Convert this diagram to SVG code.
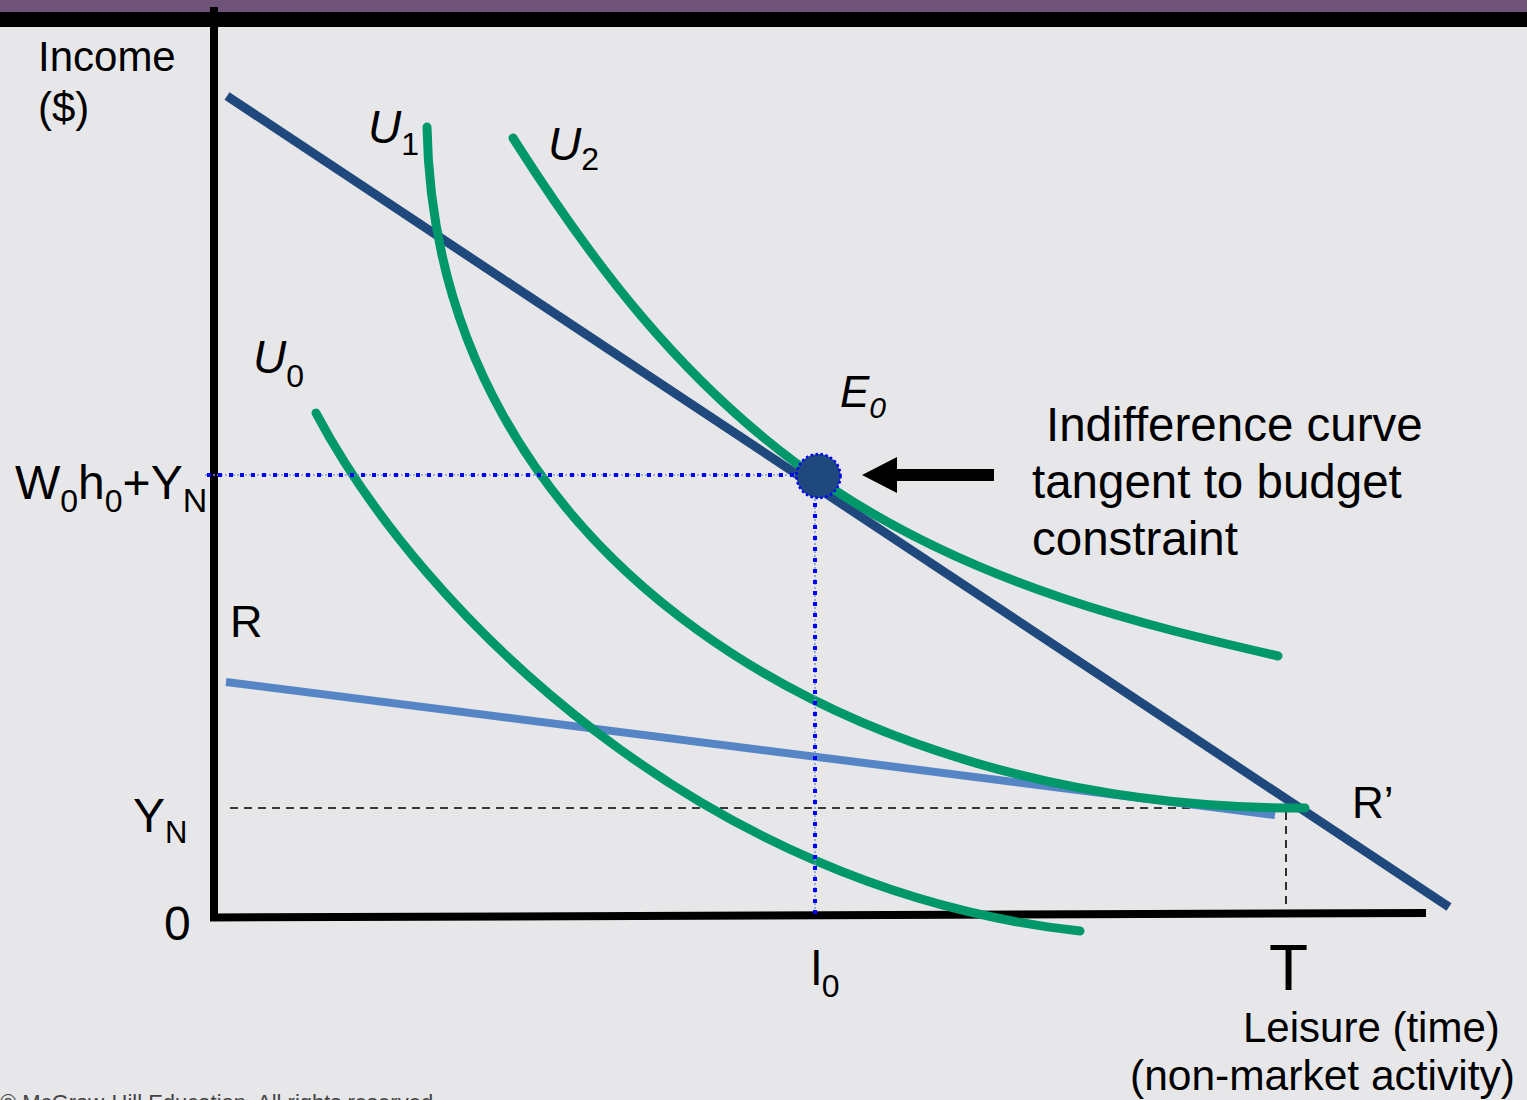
<svg xmlns="http://www.w3.org/2000/svg" width="1527" height="1100" viewBox="0 0 1527 1100">
<defs>
<style>
text{font-family:"Liberation Sans",Arial,sans-serif;fill:#000}
.it{font-style:italic}
.curve{fill:none;stroke:#00976a;stroke-width:9;stroke-linecap:round}
.dash{fill:none;stroke:#000;stroke-width:1.6;stroke-dasharray:8,6}
.dotB{fill:none;stroke:#0000ff;stroke-width:4;stroke-dasharray:4,7}
.dotL{fill:none;stroke:#7d9bd6;stroke-width:1.5;stroke-dasharray:2,2}
</style>
</defs>
<rect x="0" y="0" width="1527" height="1100" fill="#e7e7e9"/>
<rect x="0" y="0" width="1527" height="12" fill="#705379"/>
<rect x="0" y="12" width="1527" height="15" fill="#000"/>

<g id="axes">
<line x1="214" y1="7" x2="214" y2="921" stroke="#000" stroke-width="8"/>
<line x1="210" y1="917.5" x2="1426" y2="913" stroke="#000" stroke-width="8"/>
</g>

<g id="connectors">
<line class="dash" x1="230" y1="808" x2="1290" y2="808"/>
<line class="dash" x1="1286" y1="812" x2="1286" y2="912"/>
<line id="budget-RR" x1="226" y1="682" x2="1275" y2="815" stroke="#5585c5" stroke-width="8"/>
<line id="budget-line" x1="227" y1="96" x2="1449" y2="907" stroke="#1f497d" stroke-width="9"/>
<path id="U0-curve" class="curve" d="M316,413 C420,610 700,890 1080,931"/>
<path id="U1-curve" class="curve" d="M427,127 C435,560 850,810 1305,808"/>
<path id="U2-curve" class="curve" d="M513,138 C583,248 680,387 830,487 C980,587 1148,626 1278,656"/>
<line class="dotL" x1="205" y1="475" x2="815" y2="475"/>
<line class="dotB" x1="207" y1="475" x2="800" y2="475"/>
<line class="dotL" x1="815" y1="475" x2="815" y2="915"/>
<line class="dotB" x1="815" y1="492" x2="815" y2="915"/>
<path id="arrow" d="M862,475 L897,457 L897,469 L994,469 L994,481 L897,481 L897,493 Z" fill="#000"/>
</g>

<g id="E0">
<circle cx="818.5" cy="476" r="22" fill="#1f497d" stroke="#0000ff" stroke-width="2.5" stroke-dasharray="2.5,2.5"/>
<text x="840" y="407" font-size="44" class="it">E<tspan font-size="30" dy="11">0</tspan></text>
</g>

<g id="labels">
<text x="38" y="71" font-size="42">Income</text>
<text x="38" y="122" font-size="42">($)</text>
<text x="15" y="499" font-size="48">W<tspan font-size="32" dy="13">0</tspan><tspan dy="-13">h</tspan><tspan font-size="32" dy="13">0</tspan><tspan dy="-13">+Y</tspan><tspan font-size="34" dy="13">N</tspan></text>
<text x="133" y="832" font-size="48">Y<tspan font-size="31" dy="11">N</tspan></text>
<text x="164" y="940" font-size="48">0</text>
<text x="230" y="637" font-size="45">R</text>
<text x="1352" y="818" font-size="44">R’</text>
<text x="811" y="985" font-size="48">l<tspan font-size="32" dy="12">0</tspan></text>
<text x="1269" y="990" font-size="64">T</text>
<text x="1243" y="1042" font-size="42">Leisure (time)</text>
<text x="1130" y="1090" font-size="42.5">(non-market activity)</text>
<text x="1046" y="441" font-size="47.5">Indifference curve</text>
<text x="1032" y="498" font-size="47.5">tangent to budget</text>
<text x="1032" y="555" font-size="47.5">constraint</text>
<text x="368" y="143" font-size="46"><tspan class="it">U</tspan><tspan font-size="32" dy="12">1</tspan></text>
<text x="548" y="160" font-size="46"><tspan class="it">U</tspan><tspan font-size="32" dy="10">2</tspan></text>
<text x="253" y="373" font-size="46"><tspan class="it">U</tspan><tspan font-size="32" dy="14">0</tspan></text>
<text x="0" y="1110" font-size="22" style="fill:#444">© McGraw-Hill Education. All rights reserved.</text>
</g>
</svg>
